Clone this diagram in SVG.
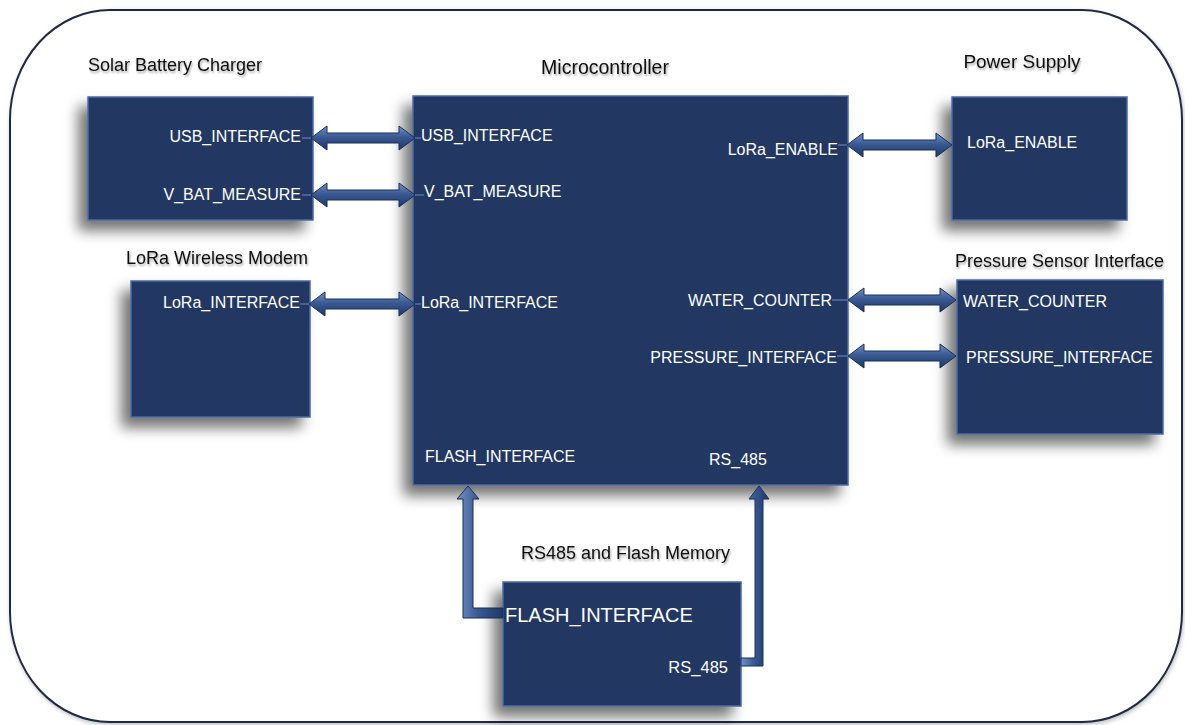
<svg xmlns="http://www.w3.org/2000/svg" width="1185" height="725" viewBox="0 0 1185 725">
<style>
.box{fill:#203864;stroke:#4a69a3;stroke-width:1.5}
.bevel{fill:none;stroke:#16294d;stroke-width:2}
.title{font-family:"Liberation Sans",Arial,sans-serif;font-size:18px;fill:#111;}
.lbl{font-family:"Liberation Sans",Arial,sans-serif;font-size:16px;fill:#fff;}
.arrow{fill:url(#ag);stroke:#1a2e57;stroke-width:1}
.varrow{fill:url(#agv);stroke:#1a2e57;stroke-width:1}
.tick{stroke:#6d8cc4;stroke-width:1}
</style>
<defs>
<filter id="sh" x="-30%" y="-30%" width="160%" height="160%">
<feGaussianBlur in="SourceAlpha" stdDeviation="7"/>
<feOffset dx="-9" dy="10" result="b"/>
<feComponentTransfer><feFuncA type="linear" slope="0.55"/></feComponentTransfer>
<feMerge><feMergeNode/><feMergeNode in="SourceGraphic"/></feMerge>
</filter>
<filter id="tsh" x="-10%" y="-30%" width="120%" height="160%">
<feGaussianBlur in="SourceAlpha" stdDeviation="1"/>
<feOffset dx="1" dy="1.5"/>
<feComponentTransfer><feFuncA type="linear" slope="0.35"/></feComponentTransfer>
<feMerge><feMergeNode/><feMergeNode in="SourceGraphic"/></feMerge>
</filter>
<filter id="fsh" x="-5%" y="-5%" width="110%" height="110%">
<feGaussianBlur in="SourceAlpha" stdDeviation="2"/>
<feOffset dx="1" dy="2"/>
<feComponentTransfer><feFuncA type="linear" slope="0.25"/></feComponentTransfer>
<feMerge><feMergeNode/><feMergeNode in="SourceGraphic"/></feMerge>
</filter>
<linearGradient id="ag" x1="0" y1="0" x2="0" y2="1">
<stop offset="0" stop-color="#7590c2"/>
<stop offset="0.45" stop-color="#3a5a94"/>
<stop offset="1" stop-color="#1e3766"/>
</linearGradient>
<linearGradient id="agv" x1="0" y1="0" x2="1" y2="0">
<stop offset="0" stop-color="#7590c2"/>
<stop offset="0.45" stop-color="#3a5a94"/>
<stop offset="1" stop-color="#1e3766"/>
</linearGradient>
</defs>
<rect width="1185" height="725" fill="#fff"/>
<rect id="frame" x="10" y="10" width="1172" height="712" rx="100" ry="110" fill="#fff" stroke="#1f2a46" stroke-width="2" filter="url(#fsh)"/>

<g id="solar">
<rect class="box" x="88" y="97" width="225" height="123" filter="url(#sh)"/>
<text class="title" x="88" y="71" filter="url(#tsh)">Solar Battery Charger</text>
<text class="lbl" x="301" y="142" text-anchor="end">USB_INTERFACE</text>
<text class="lbl" x="301" y="200" text-anchor="end">V_BAT_MEASURE</text>
</g>

<g id="micro">
<rect class="box" x="413" y="96" width="435" height="389" filter="url(#sh)"/>
<text class="title" x="605" y="74" text-anchor="middle" style="font-size:19.5px" filter="url(#tsh)">Microcontroller</text>
<text class="lbl" x="421" y="141">USB_INTERFACE</text>
<text class="lbl" x="424" y="197">V_BAT_MEASURE</text>
<text class="lbl" x="421" y="308">LoRa_INTERFACE</text>
<text class="lbl" x="425" y="462">FLASH_INTERFACE</text>
<text class="lbl" x="838" y="155" text-anchor="end">LoRa_ENABLE</text>
<text class="lbl" x="832" y="306" text-anchor="end">WATER_COUNTER</text>
<text class="lbl" x="837" y="363" text-anchor="end">PRESSURE_INTERFACE</text>
<text class="lbl" x="709" y="465">RS_485</text>
</g>

<g id="power">
<rect class="box" x="952" y="97" width="175" height="123" filter="url(#sh)"/>
<text class="title" x="1022" y="68" text-anchor="middle" style="font-size:19px" filter="url(#tsh)">Power Supply</text>
<text class="lbl" x="967" y="148">LoRa_ENABLE</text>
</g>

<g id="lora">
<rect class="box" x="131" y="281" width="179" height="136" filter="url(#sh)"/>
<text class="title" x="126" y="264" filter="url(#tsh)">LoRa Wireless Modem</text>
<text class="lbl" x="300" y="308" text-anchor="end">LoRa_INTERFACE</text>
</g>

<g id="pressure">
<rect class="box" x="957" y="280" width="206" height="154" filter="url(#sh)"/>
<text class="title" x="955" y="267" filter="url(#tsh)">Pressure Sensor Interface</text>
<text class="lbl" x="963" y="307">WATER_COUNTER</text>
<text class="lbl" x="966" y="363">PRESSURE_INTERFACE</text>
</g>

<g id="rs485">
<rect class="box" x="503" y="582" width="238" height="124" filter="url(#sh)"/>
<text class="title" x="521" y="559" filter="url(#tsh)">RS485 and Flash Memory</text>
<text class="lbl" x="505" y="622" style="font-size:20px">FLASH_INTERFACE</text>
<text class="lbl" x="728" y="673" text-anchor="end" style="font-size:16.5px">RS_485</text>
</g>

<g id="connectors">
<line class="tick" x1="302" y1="138" x2="313" y2="138"/>
<line class="tick" x1="302" y1="195" x2="313" y2="195"/>
<line class="tick" x1="300" y1="304" x2="310" y2="304"/>
<line class="tick" x1="413" y1="138" x2="421" y2="138"/>
<line class="tick" x1="413" y1="195" x2="424" y2="195"/>
<line class="tick" x1="413" y1="304" x2="421" y2="304"/>
<line class="tick" x1="838" y1="145" x2="848" y2="145"/>
<line class="tick" x1="832" y1="300" x2="848" y2="300"/>
<line class="tick" x1="837" y1="356" x2="848" y2="356"/>
<path class="arrow" d="M311,138 L327,126 L327,133 L399,133 L399,126 L415,138 L399,150 L399,143 L327,143 L327,150 Z"/>
<path class="arrow" d="M311,195 L327,183 L327,190 L399,190 L399,183 L415,195 L399,207 L399,200 L327,200 L327,207 Z"/>
<path class="arrow" d="M309,304 L325,292 L325,299 L399,299 L399,292 L415,304 L399,316 L399,309 L325,309 L325,316 Z"/>
<path class="arrow" d="M847,145 L863,133 L863,140 L936,140 L936,133 L952,145 L936,157 L936,150 L863,150 L863,157 Z"/>
<path class="arrow" d="M848,300 L864,288 L864,295 L940,295 L940,288 L956,300 L940,312 L940,305 L864,305 L864,312 Z"/>
<path class="arrow" d="M848,356 L864,344 L864,351 L940,351 L940,344 L956,356 L940,368 L940,361 L864,361 L864,368 Z"/>
<path class="varrow" d="M503,608 L473,608 L473,499 L479,499 L468,486 L457,499 L463,499 L463,618 L503,618 Z"/>
<path class="varrow" d="M741,658 L755,658 L755,499 L749,499 L759,486 L769,499 L763,499 L763,666 L741,666 Z"/>
</g>
</svg>
